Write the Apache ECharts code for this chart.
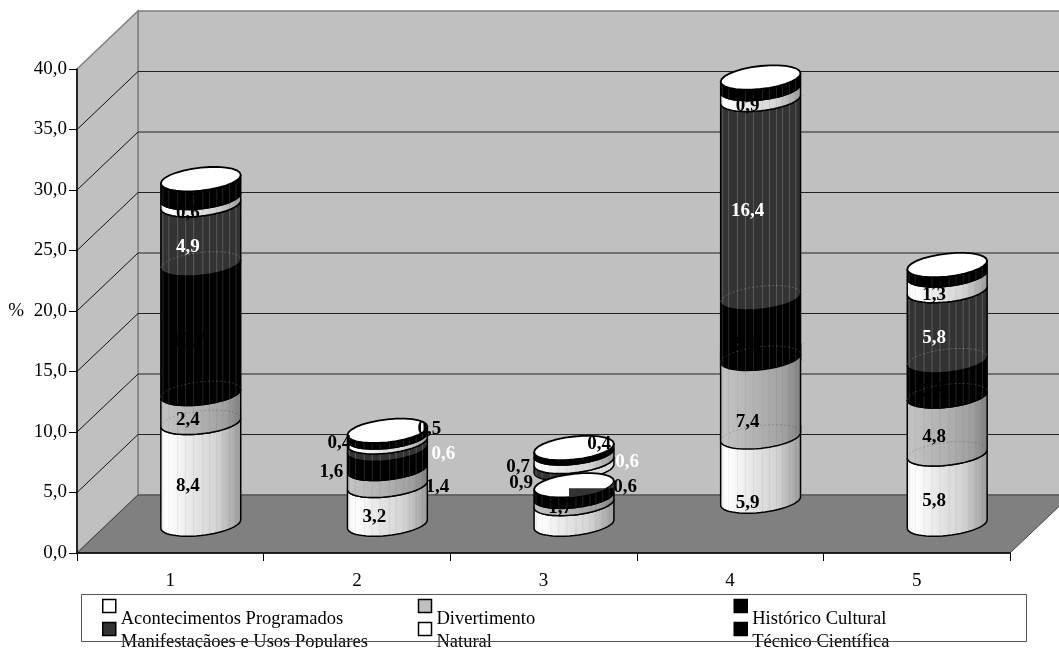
<!DOCTYPE html>
<html>
<head>
<meta charset="utf-8">
<style>
  html, body { margin: 0; padding: 0; background: #fff; overflow: hidden; }
  #chart { width: 1059px; height: 648px; }
</style>
<script src="https://cdn.jsdelivr.net/npm/echarts@6/dist/echarts.min.js"></script>
</head>
<body>
<div id="chart"></div>
<script>
// Data
var categories = ['1', '2', '3', '4', '5'];
var yTicks = [0, 5, 10, 15, 20, 25, 30, 35, 40];

var acontecimentos = [8.4, 3.2, 1.7, 5.9, 5.8];
var divertimento = [2.4, 1.4, 0.6, 7.4, 4.8];
var historico = [10.7, 1.6, 0.9, 5.0, 2.9];
var manifestacoes = [4.9, 0.6, 0.6, 16.4, 5.8];
var natural = [0.6, 0.4, 0.7, 0.9, 1.3];
var tecnico = [1.5, 0.5, 0.4, 0.9, 0.8];

// The stacks in the picture do not sit flush: column 3 floats apart, column 4 is lifted and overlaps itself
var gapAcontecimentos = [0, 0, 0, 1.9, 0];
var gapDivertimento = [0, 0, 0, -0.6, 0];
var gapHistorico = [0, 0, 0, -0.9, 0];
var gapManifestacoes = [0, 0, 1.38, 0, 0];
var gapNone = [0, 0, 0, 0, 0];

var FONT = '"Liberation Serif", "Times New Roman", serif';
var DEPTH_X = 61, DEPTH_Y = -58;
var TILT = 0.105, MINOR = 11.5;
var STRIPES = [-0.95, -0.8, -0.58, -0.38, -0.18, 0.05, 0.22, 0.4, 0.55, 0.72, 0.88];

function grad(stops) {
  return new echarts.graphic.LinearGradient(0, 0, 1, 0, stops.map(function (s) {
    return { offset: s[0], color: s[1] };
  }));
}
var whiteFill = grad([[0, '#f4f4f4'], [0.1, '#ffffff'], [0.45, '#e2e2e2'], [0.7, '#d4d4d4'], [1, '#9a9a9a']]);
var grayFill = grad([[0, '#c4c4c4'], [0.5, '#b0b0b0'], [0.8, '#a0a0a0'], [1, '#808080']]);

var seriesDefs = [
  { name: 'Acontecimentos Programados', values: acontecimentos, gaps: gapAcontecimentos, icon: '#ffffff', fill: whiteFill, stripe: 'rgba(0,0,0,0.06)', back: null, label: '#000' },
  { name: 'Divertimento', values: divertimento, gaps: gapDivertimento, icon: '#c0c0c0', fill: grayFill, stripe: 'rgba(0,0,0,0.05)', back: 'rgba(0,0,0,0.16)', label: '#000' },
  { name: 'Histórico Cultural', values: historico, gaps: gapHistorico, icon: '#000000', fill: '#000000', stripe: 'rgba(255,255,255,0.14)', back: 'rgba(255,255,255,0.18)', label: '#000' },
  { name: 'Manifestaçãoes e Usos Populares', values: manifestacoes, gaps: gapManifestacoes, icon: '#333333', fill: '#333333', stripe: 'rgba(255,255,255,0.2)', back: 'rgba(255,255,255,0.22)', label: '#fff' },
  { name: 'Natural', values: natural, gaps: gapNone, icon: '#ffffff', fill: whiteFill, stripe: 'rgba(0,0,0,0.06)', back: null, label: '#000' },
  { name: 'Técnico Científica', values: tecnico, gaps: gapNone, icon: '#000000', fill: '#000000', stripe: 'rgba(255,255,255,0.14)', back: null, label: '#000' }
];

// Hand-placed labels in the original, offset in px from the default spot: [series][category]
var labelNudge = [
  [null, null, [-1, -18], [0, 25], null],
  [null, [63, -2], [64, -25], [0, 17], null],
  [null, [-43, 1], [-40, -20], [0, 5], null],
  [null, [69, -4], [66, -15], null, null],
  [null, [-35, -9], [-43, -2], null, null],
  [null, [55, -17], [38, -19], null, null]
];

function comma(v) {
  return v.toFixed(1).replace('.', ',');
}

// stack start, stack end per series and category, including the gaps
var stackData = seriesDefs.map(function () { return []; });
categories.forEach(function (c, i) {
  var sum = 0;
  seriesDefs.forEach(function (def, s) {
    sum += def.gaps[i];
    var start = sum;
    sum += def.values[i];
    var next = seriesDefs[s + 1];
    var capped = !next || next.gaps[i] > 0;
    stackData[s].push([i, start, sum, def.values[i], capped ? 1 : 0]);
  });
});

function arc(cx, cy, a, t0, t1) {
  var pts = [], n = 28;
  for (var i = 0; i <= n; i++) {
    var t = t0 + (t1 - t0) * i / n;
    pts.push([cx + a * Math.cos(t), cy + MINOR * Math.sin(t) - TILT * a * Math.cos(t)]);
  }
  return pts;
}

function band(cx, yBottom, yTop, a, t0, t1) {
  return arc(cx, yBottom, a, t0, t1).concat(arc(cx, yTop, a, t1, t0));
}

function renderBand(def, s, params, api) {
  var col = api.value(0);
  var start = api.value(1), end = api.value(2), val = api.value(3), capped = api.value(4);
  var p0 = api.coord([col, start]);
  var p1 = api.coord([col, end]);
  var cx = p0[0] + DEPTH_X / 2;
  var yb = p0[1] + DEPTH_Y / 2, yt = p1[1] + DEPTH_Y / 2;
  var a = api.size([1, 0])[0] * 0.214;
  var kids = [];

  // sliver of the lower band showing where the next one sinks into it
  if (def.gaps[col] < 0 && s === 2) {
    var sliverY = api.coord([col, start - 0.5])[1] + DEPTH_Y / 2;
    kids.push({ type: 'polygon', z2: 5 + s, shape: { points: band(cx, sliverY, yb, a, Math.PI, 0) },
      style: { fill: '#c6c6c6', stroke: '#000', lineWidth: 1.5 } });
  }

  var splitCol = s === 3 && def.gaps[col] > 0;
  if (splitCol) {
    // column 3: this band is torn in two, left half up on the floating piece, right half on the lower piece
    var tSplit = Math.acos(-5 / a);
    kids.push({ type: 'polygon', z2: 10 + s, shape: { points: band(cx, yb, yt, a, Math.PI, tSplit) },
      style: { fill: def.fill } });
    kids.push({ type: 'polygon', z2: 10 + s, shape: { points: band(cx, yb, yt, a, tSplit, 0) },
      style: { fill: '#dcdcdc' } });
    kids.push({ type: 'polygon', z2: 11 + s, shape: { points: band(cx, yb, yt, a, Math.PI, 0) },
      style: { fill: 'none', stroke: '#000', lineWidth: 1.5 } });
    var yLow = api.coord([col, start - def.gaps[col]])[1] + DEPTH_Y / 2;
    var front = arc(cx, yLow, a, tSplit, 0);
    var flatY = front[0][1] - 9;
    var patch = front.concat([[cx + a, flatY], [cx - 5, flatY]]);
    kids.push({ type: 'polygon', z2: 60, shape: { points: patch }, style: { fill: def.fill } });
  } else {
    kids.push({ type: 'polygon', z2: 10 + s, shape: { points: band(cx, yb, yt, a, Math.PI, 0) },
      style: { fill: def.fill, stroke: '#000', lineWidth: 1.5 } });
  }

  // faint facets of the cylinder
  if (yb - yt > 6) {
    STRIPES.forEach(function (f) {
      var x = cx + a * f;
      var t = Math.acos(f);
      var dy = MINOR * Math.sin(t) - TILT * a * f;
      kids.push({ type: 'line', z2: 11 + s, silent: true,
        shape: { x1: x, y1: yb + dy, x2: x, y2: yt + dy },
        style: { stroke: def.stripe, lineWidth: 1 } });
    });
  }
  // the far edge of the bottom circle shows through tall bands
  if (def.back && yb - yt > 2 * MINOR && start > 0.5) {
    kids.push({ type: 'polyline', z2: 12 + s, silent: true, shape: { points: arc(cx, yb, a, Math.PI, 2 * Math.PI) },
      style: { fill: 'none', stroke: def.back, lineWidth: 1, lineDash: [2, 2] } });
  }

  if (capped) {
    kids.push({ type: 'polygon', z2: 50, shape: { points: arc(cx, yt, a, 0, 2 * Math.PI) },
      style: { fill: '#ffffff', stroke: '#000', lineWidth: 1.8 } });
  }

  var nudge = labelNudge[s][col] || [0, 0];
  kids.push({
    type: 'text', z2: (s === 5 && !labelNudge[s][col]) ? 40 : 70, silent: true,
    style: {
      text: comma(val),
      x: cx - 13 + nudge[0],
      y: (yb + yt) / 2 + MINOR + nudge[1] + 1,
      fill: def.label,
      font: 'bold 19px ' + FONT,
      align: 'center',
      verticalAlign: 'middle'
    }
  });
  return { type: 'group', children: kids };
}

// Walls, floor and the grid lines running round them
function renderWalls(params, api) {
  var tick = api.value(0);
  var p = api.coord([0, tick]);
  var cs = params.coordSys;
  var left = cs.x, right = cs.x + cs.width, y = p[1];
  var kids = [];
  if (params.dataIndex === 0) {
    var top = api.coord([0, yTicks[yTicks.length - 1]])[1];
    kids.push({ type: 'polygon', z2: 0, shape: { points: [[left + DEPTH_X, top + DEPTH_Y], [right + DEPTH_X, top + DEPTH_Y], [right + DEPTH_X, y + DEPTH_Y], [left + DEPTH_X, y + DEPTH_Y]] },
      style: { fill: '#c0c0c0', stroke: '#808080', lineWidth: 1.5 } });
    kids.push({ type: 'polygon', z2: 0, shape: { points: [[left, top], [left + DEPTH_X, top + DEPTH_Y], [left + DEPTH_X, y + DEPTH_Y], [left, y]] },
      style: { fill: '#c0c0c0', stroke: '#808080', lineWidth: 1.5 } });
    kids.push({ type: 'polygon', z2: 1, shape: { points: [[left, y], [right, y], [right + DEPTH_X, y + DEPTH_Y], [left + DEPTH_X, y + DEPTH_Y]] },
      style: { fill: '#808080', stroke: '#444', lineWidth: 1 } });
  } else if (params.dataIndex < yTicks.length - 1) {
    kids.push({ type: 'line', z2: 2, shape: { x1: left, y1: y, x2: left + DEPTH_X, y2: y + DEPTH_Y },
      style: { stroke: '#111', lineWidth: 1 } });
    kids.push({ type: 'line', z2: 2, shape: { x1: left + DEPTH_X, y1: y + DEPTH_Y, x2: right + DEPTH_X, y2: y + DEPTH_Y },
      style: { stroke: '#222', lineWidth: 1 } });
  }
  return { type: 'group', children: kids };
}

var series = [{
  type: 'custom',
  name: 'paredes',
  silent: true,
  clip: false,
  renderItem: renderWalls,
  data: yTicks.map(function (t) { return [t]; }),
  encode: { y: 0 }
}];

seriesDefs.forEach(function (def, s) {
  series.push({
    type: 'custom',
    name: def.name,
    clip: false,
    itemStyle: { color: def.icon },
    renderItem: function (params, api) { return renderBand(def, s, params, api); },
    data: stackData[s],
    encode: { x: 0, y: [1, 2] }
  });
});

var myChart = echarts.init(document.getElementById('chart'), null, { renderer: 'canvas' });

var option = {
  animation: false,
  backgroundColor: '#ffffff',
  textStyle: { fontFamily: FONT },
  grid: { left: 77, top: 69, width: 933, height: 484, outerBoundsMode: 'none' },
  legend: {
    left: 102,
    top: 580,
    width: 1000,
    padding: 0,
    itemWidth: 13,
    itemHeight: 13,
    itemGap: -29,
    icon: 'rect',
    selectedMode: false,
    // an empty first line drops the text below its icon, as in the picture
    formatter: function (name) { return '\n' + name; },
    textStyle: { fontFamily: FONT, fontSize: 18.5, color: '#000', width: 326, lineHeight: 26 },
    data: seriesDefs.map(function (def) {
      return { name: def.name, icon: 'rect', itemStyle: { color: def.icon, borderColor: '#000', borderWidth: 1.5 } };
    })
  },
  xAxis: {
    type: 'category',
    data: categories,
    z: 10,
    axisLine: { lineStyle: { color: '#000', width: 1.5 } },
    axisTick: { show: true, alignWithLabel: false, length: 8, lineStyle: { color: '#000', width: 1 } },
    axisLabel: { color: '#000', fontFamily: FONT, fontSize: 19, margin: 19, interval: 0 },
    splitLine: { show: false }
  },
  yAxis: {
    type: 'value',
    min: 0,
    max: 40,
    interval: 5,
    z: 10,
    name: '%',
    nameLocation: 'middle',
    nameRotate: 0,
    nameGap: 53,
    nameTextStyle: { color: '#000', fontFamily: FONT, fontSize: 19 },
    axisLine: { show: true, lineStyle: { color: '#000', width: 1.5 } },
    axisTick: { show: true, length: 8, lineStyle: { color: '#000', width: 1 } },
    axisLabel: { color: '#000', fontFamily: FONT, fontSize: 19, margin: 10, padding: [4, 0, 0, 0], formatter: function (v) { return comma(v); } },
    splitLine: { show: false }
  },
  graphic: [{
    type: 'rect',
    z: 100,
    silent: true,
    shape: { x: 81.5, y: 594.5, width: 945, height: 47 },
    style: { fill: 'none', stroke: '#555', lineWidth: 1 }
  }],
  series: series
};

myChart.setOption(option);
</script>
</body>
</html>
